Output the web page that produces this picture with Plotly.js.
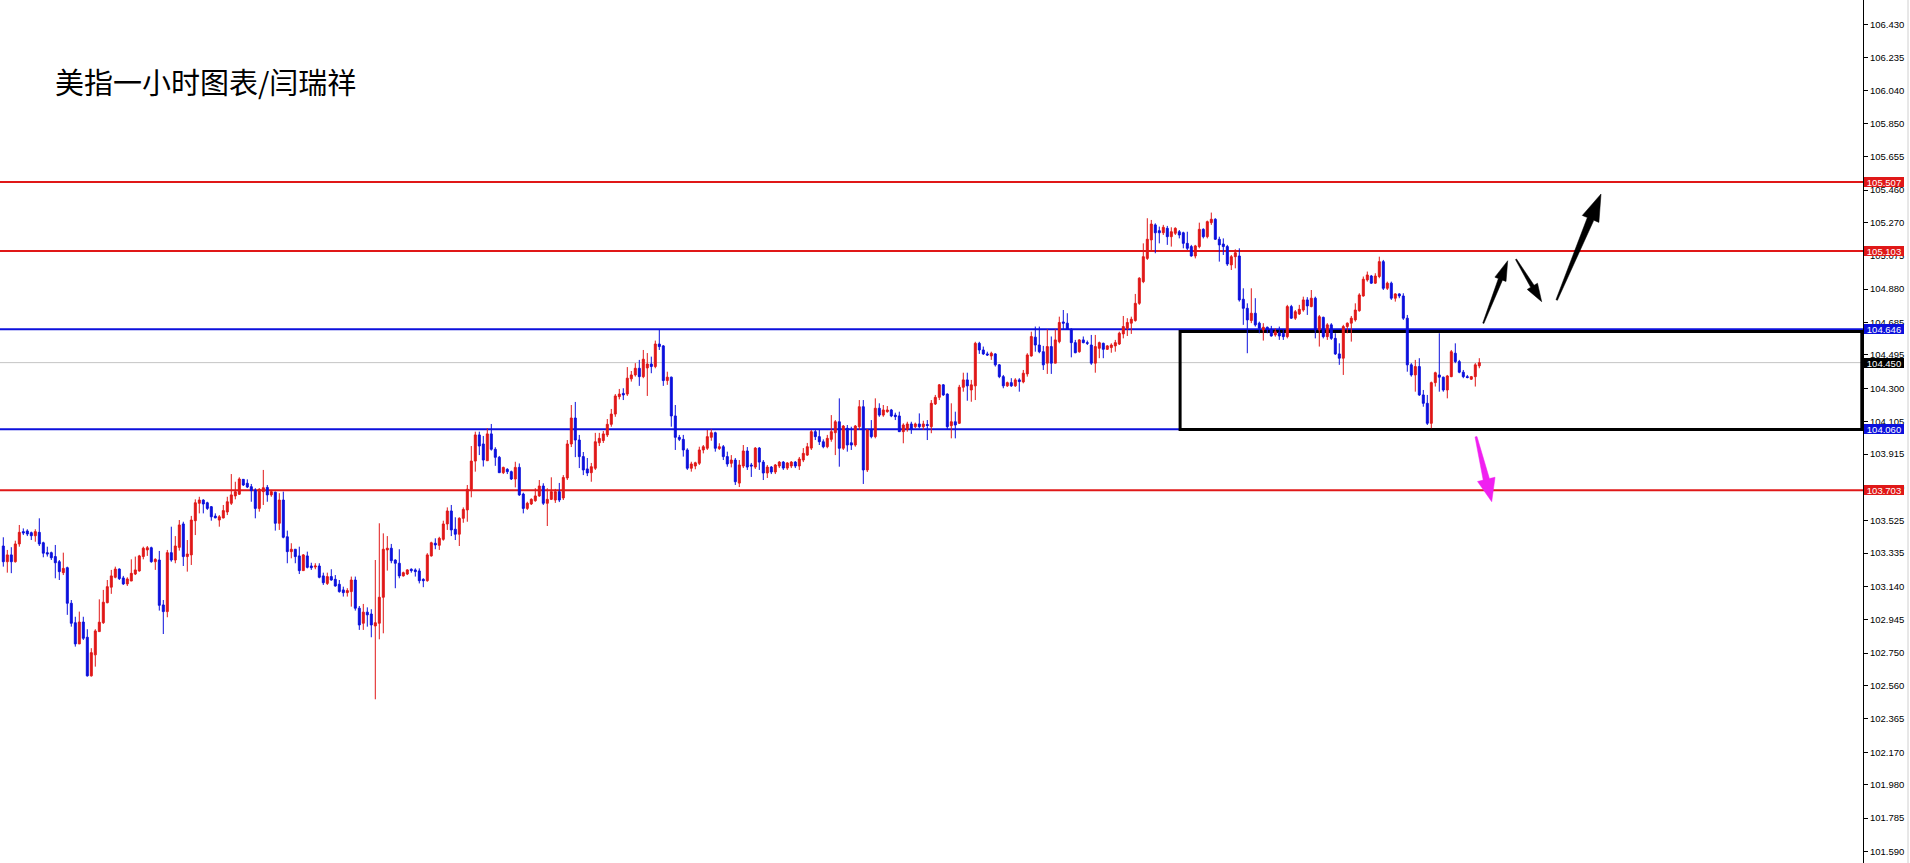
<!DOCTYPE html>
<html><head><meta charset="utf-8">
<script src="https://cdn.plot.ly/plotly-3.0.1.min.js"></script>
<style>html,body{margin:0;padding:0;background:#fff;overflow:hidden}#chart{width:1910px;height:863px}</style>
</head><body><div id="chart"></div>
<script>
// ---- hourly candles (oldest -> newest) ----
const OPEN = [
103.377,103.285,103.325,103.285,103.389,103.461,103.465,103.455,103.437,103.457,
103.396,103.338,103.338,103.315,103.285,103.221,103.250,103.042,102.928,102.804,
102.932,102.843,102.617,102.740,102.876,102.928,103.045,103.136,103.194,103.242,
103.190,103.155,103.172,103.213,103.231,103.315,103.354,103.367,103.285,103.295,
103.032,102.993,103.338,103.295,103.369,103.506,103.315,103.325,103.525,103.627,
103.646,103.630,103.607,103.552,103.529,103.541,103.576,103.627,103.670,103.680,
103.767,103.744,103.724,103.705,103.597,103.695,103.720,103.676,103.692,103.510,
103.646,103.431,103.344,103.358,103.319,103.233,103.319,103.260,103.254,103.260,
103.202,103.158,103.198,103.182,103.153,103.120,103.104,103.110,103.178,103.013,
102.925,102.990,102.979,102.909,102.925,103.077,103.354,103.364,103.295,103.276,
103.202,103.213,103.241,103.237,103.231,103.182,103.174,103.319,103.393,103.381,
103.416,103.506,103.582,103.475,103.446,103.539,103.588,103.709,103.874,104.027,
103.974,103.876,104.033,103.943,103.896,103.806,103.826,103.812,103.769,103.837,
103.681,103.597,103.623,103.642,103.670,103.728,103.627,103.650,103.646,103.695,
103.658,103.775,103.974,104.126,103.997,103.900,103.828,103.806,103.832,103.981,
103.994,104.027,104.089,104.149,104.251,104.270,104.266,104.355,104.378,104.417,
104.368,104.419,104.442,104.427,104.559,104.548,104.345,104.365,104.138,104.013,
104.001,103.939,103.832,103.845,103.861,103.939,103.949,104.013,104.040,103.947,
103.958,103.900,103.861,103.880,103.745,103.845,103.933,103.851,103.839,103.950,
103.868,103.804,103.839,103.810,103.845,103.868,103.833,103.845,103.868,103.845,
103.880,103.909,103.950,104.046,104.017,103.987,103.958,104.001,104.040,104.104,
103.949,104.066,103.981,103.968,104.075,104.192,103.822,104.056,104.017,104.183,
104.143,104.163,104.173,104.143,104.138,104.046,104.060,104.091,104.075,104.091,
104.075,104.088,104.075,104.208,104.247,104.320,104.266,104.081,104.104,104.095,
104.306,104.349,104.290,104.314,104.563,104.524,104.501,104.489,104.501,104.437,
104.368,104.314,104.333,104.314,104.349,104.337,104.384,104.489,104.599,104.553,
104.514,104.447,104.544,104.447,104.573,104.688,104.681,104.645,104.567,104.514,
104.583,104.567,104.553,104.447,104.534,104.563,104.528,104.538,104.548,104.559,
104.618,104.651,104.681,104.696,104.797,104.924,105.060,105.168,105.256,105.222,
105.210,105.236,105.187,105.207,105.216,105.210,105.148,105.129,105.074,105.129,
105.230,105.187,105.269,105.289,105.172,105.144,105.129,105.022,105.070,105.074,
104.821,104.768,104.696,104.739,104.681,104.641,104.657,104.645,104.612,104.625,
104.622,104.602,104.778,104.710,104.735,104.758,104.817,104.778,104.827,104.641,
104.715,104.602,104.671,104.592,104.501,104.476,104.661,104.681,104.700,104.754,
104.840,104.934,104.957,104.915,104.954,105.041,104.885,104.915,104.827,104.852,
104.840,104.710,104.437,104.378,104.427,104.261,104.212,104.095,104.333,104.378,
104.365,104.290,104.368,104.505,104.456,104.394,104.368,104.353,104.368,104.431];
const HIGH = [
103.428,103.354,103.370,103.408,103.500,103.480,103.475,103.461,103.475,103.539,
103.402,103.373,103.344,103.383,103.295,103.338,103.256,103.061,102.963,102.993,
102.963,102.890,102.779,102.890,103.065,103.120,103.178,103.237,103.256,103.246,
103.202,103.194,103.299,103.315,103.325,103.373,103.377,103.373,103.305,103.348,
103.061,103.354,103.490,103.435,103.529,103.519,103.412,103.553,103.650,103.665,
103.650,103.636,103.611,103.568,103.558,103.617,103.665,103.798,103.753,103.779,
103.769,103.767,103.740,103.715,103.715,103.822,103.734,103.705,103.695,103.686,
103.695,103.467,103.393,103.358,103.373,103.330,103.344,103.279,103.276,103.276,
103.221,103.221,103.241,103.207,103.178,103.139,103.130,103.198,103.198,103.026,
103.038,103.018,103.007,103.295,103.510,103.451,103.435,103.389,103.299,103.358,
103.227,103.241,103.246,103.246,103.246,103.188,103.335,103.402,103.422,103.431,
103.525,103.603,103.617,103.545,103.545,103.603,103.734,103.962,104.046,104.046,
104.021,104.066,104.091,103.955,103.904,103.841,103.832,103.818,103.870,103.860,
103.689,103.636,103.656,103.715,103.763,103.744,103.715,103.779,103.711,103.746,
103.792,103.997,104.202,104.220,104.027,103.927,103.892,103.863,104.039,104.039,
104.050,104.120,104.179,104.266,104.296,104.300,104.424,104.401,104.447,104.466,
104.524,104.506,104.485,104.579,104.645,104.553,104.397,104.368,104.202,104.027,
104.027,103.949,103.870,103.870,103.958,103.968,104.056,104.060,104.046,103.978,
103.968,103.929,103.909,103.892,103.880,103.968,103.956,103.863,103.956,103.956,
103.880,103.851,103.845,103.857,103.874,103.874,103.868,103.874,103.874,103.898,
103.950,103.980,104.056,104.060,104.056,104.001,104.027,104.143,104.114,104.241,
104.085,104.085,104.075,104.085,104.231,104.231,104.062,104.114,104.241,104.212,
104.202,104.196,104.179,104.157,104.163,104.095,104.104,104.104,104.099,104.153,
104.110,104.114,104.231,104.261,104.325,104.325,104.270,104.212,104.163,104.320,
104.391,104.391,104.349,104.572,104.572,104.544,104.514,104.514,104.505,104.442,
104.378,104.339,104.359,104.359,104.359,104.407,104.505,104.631,104.661,104.661,
104.548,104.645,104.603,104.645,104.719,104.758,104.739,104.651,104.583,104.587,
104.603,104.579,104.612,104.612,104.573,104.567,104.553,104.563,104.583,104.631,
104.723,104.710,104.719,104.852,104.950,105.148,105.295,105.285,105.265,105.246,
105.256,105.250,105.242,105.242,105.226,105.216,105.216,105.139,105.139,105.269,
105.236,105.281,105.328,105.295,105.187,105.177,105.139,105.080,105.113,105.119,
104.885,104.797,104.885,104.827,104.690,104.681,104.661,104.665,104.651,104.661,
104.645,104.788,104.788,104.758,104.788,104.836,104.833,104.875,104.836,104.729,
104.719,104.681,104.681,104.622,104.563,104.671,104.685,104.723,104.797,104.856,
104.954,104.983,104.963,104.973,105.070,105.051,104.924,104.924,104.856,104.856,
104.856,104.729,104.447,104.466,104.476,104.290,104.261,104.339,104.397,104.622,
104.368,104.378,104.524,104.563,104.466,104.407,104.378,104.372,104.447,104.476];
const LOW = [
103.256,103.221,103.218,103.280,103.373,103.441,103.435,103.412,103.402,103.377,
103.311,103.315,103.295,103.188,103.178,103.207,102.974,102.905,102.788,102.804,
102.827,102.613,102.613,102.671,102.876,102.921,103.042,103.097,103.188,103.178,
103.149,103.143,103.172,103.207,103.227,103.299,103.319,103.279,103.237,102.999,
102.862,102.960,103.285,103.276,103.350,103.260,103.227,103.266,103.441,103.568,
103.568,103.588,103.525,103.539,103.490,103.539,103.558,103.617,103.650,103.676,
103.728,103.716,103.636,103.539,103.578,103.617,103.636,103.665,103.467,103.471,
103.422,103.276,103.305,103.276,103.213,103.233,103.246,103.237,103.241,103.188,
103.149,103.149,103.174,103.139,103.104,103.081,103.081,103.022,102.999,102.886,
102.886,102.905,102.843,102.480,102.831,102.866,103.233,103.276,103.130,103.188,
103.198,103.207,103.221,103.198,103.158,103.136,103.168,103.315,103.358,103.354,
103.408,103.471,103.435,103.412,103.377,103.513,103.519,103.662,103.812,103.909,
103.842,103.876,103.935,103.846,103.806,103.798,103.798,103.763,103.720,103.670,
103.568,103.588,103.617,103.636,103.665,103.617,103.494,103.646,103.629,103.634,
103.646,103.763,103.956,103.897,103.833,103.792,103.786,103.753,103.822,103.962,
103.980,104.015,104.075,104.133,104.235,104.231,104.255,104.339,104.368,104.314,
104.359,104.255,104.388,104.417,104.524,104.314,104.320,104.075,103.939,103.991,
103.900,103.822,103.812,103.826,103.851,103.919,103.939,103.993,103.929,103.939,
103.880,103.841,103.837,103.734,103.722,103.833,103.822,103.781,103.828,103.822,
103.763,103.775,103.798,103.798,103.833,103.822,103.822,103.833,103.833,103.822,
103.868,103.904,103.939,103.997,103.968,103.949,103.949,103.987,103.909,103.841,
103.939,103.929,103.939,103.958,104.056,103.740,103.810,104.007,104.007,104.133,
104.133,104.157,104.131,104.114,104.045,103.978,104.046,104.033,104.066,104.066,
104.056,103.997,104.037,104.202,104.231,104.255,104.056,104.007,104.007,104.091,
104.280,104.227,104.221,104.231,104.501,104.495,104.489,104.466,104.427,104.359,
104.300,104.308,104.308,104.308,104.280,104.329,104.368,104.485,104.514,104.505,
104.407,104.384,104.384,104.447,104.563,104.645,104.641,104.481,104.505,104.508,
104.563,104.553,104.437,104.391,104.476,104.476,104.524,104.508,104.514,104.553,
104.592,104.606,104.618,104.690,104.788,104.915,105.051,105.099,105.090,105.148,
105.197,105.139,105.129,105.197,105.177,105.119,105.109,105.070,105.060,105.119,
105.177,105.177,105.256,105.168,105.041,105.080,105.016,104.992,105.002,104.807,
104.671,104.505,104.681,104.661,104.622,104.579,104.622,104.602,104.602,104.583,
104.583,104.592,104.706,104.700,104.729,104.748,104.729,104.774,104.592,104.544,
104.592,104.583,104.583,104.495,104.437,104.378,104.622,104.573,104.690,104.748,
104.836,104.924,104.911,104.911,104.944,104.875,104.875,104.817,104.807,104.827,
104.700,104.397,104.368,104.280,104.255,104.192,104.085,104.066,104.310,104.280,
104.280,104.241,104.365,104.447,104.388,104.359,104.358,104.349,104.310,104.417];
const CLOSE = [
103.285,103.325,103.285,103.389,103.457,103.453,103.447,103.437,103.461,103.389,
103.335,103.330,103.308,103.279,103.227,103.246,103.042,102.925,102.804,102.932,
102.837,102.617,102.753,102.880,102.931,103.048,103.139,103.202,103.242,103.186,
103.155,103.184,103.217,103.237,103.319,103.364,103.367,103.285,103.299,103.030,
102.993,103.338,103.295,103.377,103.500,103.315,103.330,103.529,103.630,103.646,
103.623,103.597,103.548,103.542,103.548,103.584,103.636,103.676,103.695,103.769,
103.734,103.722,103.701,103.597,103.709,103.718,103.676,103.695,103.510,103.646,
103.428,103.344,103.358,103.315,103.233,103.325,103.252,103.250,103.260,103.194,
103.162,103.198,103.178,103.143,103.110,103.104,103.116,103.178,103.013,102.915,
102.990,102.974,102.915,102.928,103.077,103.358,103.364,103.291,103.276,103.202,
103.221,103.237,103.233,103.227,103.174,103.174,103.325,103.396,103.383,103.422,
103.506,103.582,103.471,103.446,103.539,103.591,103.709,103.874,104.027,103.962,
103.880,104.033,103.943,103.896,103.806,103.837,103.812,103.769,103.837,103.676,
103.597,103.627,103.650,103.670,103.728,103.627,103.650,103.695,103.695,103.646,
103.778,103.974,104.126,103.997,103.900,103.822,103.804,103.841,103.987,104.007,
104.033,104.089,104.149,104.255,104.266,104.261,104.359,104.378,104.417,104.368,
104.470,104.442,104.427,104.559,104.544,104.345,104.365,104.138,104.013,104.001,
103.939,103.832,103.857,103.864,103.939,103.958,104.017,104.040,103.949,103.958,
103.900,103.857,103.880,103.753,103.851,103.933,103.839,103.845,103.950,103.868,
103.804,103.839,103.810,103.851,103.868,103.833,103.863,103.868,103.845,103.886,
103.919,103.958,104.046,104.017,103.987,103.958,104.007,104.046,104.104,103.949,
104.079,103.968,103.968,104.079,104.192,103.822,104.056,104.017,104.183,104.143,
104.173,104.173,104.138,104.134,104.046,104.085,104.091,104.060,104.091,104.075,
104.091,104.082,104.212,104.247,104.320,104.261,104.075,104.104,104.085,104.306,
104.349,104.314,104.320,104.563,104.524,104.501,104.495,104.505,104.437,104.368,
104.314,104.333,104.314,104.349,104.339,104.388,104.495,104.603,104.553,104.514,
104.437,104.544,104.447,104.583,104.685,104.681,104.645,104.567,104.508,104.583,
104.567,104.563,104.447,104.544,104.567,104.528,104.548,104.553,104.567,104.622,
104.661,104.685,104.704,104.797,104.944,105.070,105.172,105.261,105.210,105.210,
105.242,105.187,105.216,105.236,105.197,105.148,105.119,105.074,105.133,105.230,
105.187,105.275,105.289,105.172,105.139,105.129,105.027,105.070,105.093,104.817,
104.768,104.700,104.739,104.671,104.651,104.657,104.645,104.606,104.631,104.606,
104.602,104.778,104.710,104.748,104.762,104.817,104.782,104.827,104.641,104.719,
104.602,104.671,104.592,104.501,104.476,104.661,104.681,104.710,104.758,104.846,
104.938,104.963,104.915,104.957,105.041,104.885,104.915,104.827,104.852,104.840,
104.710,104.437,104.378,104.427,104.261,104.212,104.095,104.333,104.391,104.365,
104.290,104.372,104.514,104.456,104.394,104.368,104.363,104.368,104.437,104.450];

// ---- price axis ticks ----
const TICK_VALUES = [106.430,106.235,106.040,105.850,105.655,105.460,105.270,105.075,104.880,104.685,
  104.495,104.300,104.105,103.915,103.720,103.525,103.335,103.140,102.945,102.750,102.560,102.365,
  102.170,101.980,101.785,101.590];

// ---- drawn levels ----
const RED = '#e01818', BLUE = '#0c10dc';
const RESISTANCE = [105.507, 105.103];
const SUPPORT_BLUE = [104.646, 104.060];
const SUPPORT_RED = [103.703];
const CURRENT_PRICE = 104.450;
const RANGE_BOX = {fromBar: 294.2, top: 104.632, bottom: 104.058};
const TITLE = '美指一小时图表/闫瑞祥';

// ---- layout geometry ----
const W = 1910, H = 863, PLOT_W = 1863;
const X_RANGE = [-0.825, -0.825 + PLOT_W / 4];
const Y_RANGE = [101.522, 106.572];

const idx = OPEN.map((_, i) => i);

const candles = {
  type: 'candlestick', x: idx, open: OPEN, high: HIGH, low: LOW, close: CLOSE,
  increasing: {line: {color: RED, width: 1}, fillcolor: RED},
  decreasing: {line: {color: BLUE, width: 1}, fillcolor: BLUE},
  whiskerwidth: 0, hoverinfo: 'none', showlegend: false
};

const shapes = [];
shapes.push({type: 'line', xref: 'paper', yref: 'y', x0: 0, x1: 1, y0: CURRENT_PRICE, y1: CURRENT_PRICE,
  line: {color: '#c4c4c4', width: 1}, layer: 'below'});
RESISTANCE.concat(SUPPORT_RED).forEach(p => shapes.push({type: 'line', xref: 'paper', yref: 'y',
  x0: 0, x1: 1, y0: p, y1: p, line: {color: RED, width: 2}, layer: 'below'}));
SUPPORT_BLUE.forEach(p => shapes.push({type: 'line', xref: 'paper', yref: 'y',
  x0: 0, x1: 1, y0: p, y1: p, line: {color: BLUE, width: 2}, layer: 'below'}));
shapes.push({type: 'rect', xref: 'x', yref: 'y', x0: RANGE_BOX.fromBar, x1: X_RANGE[1] - 0.3,
  y0: RANGE_BOX.bottom, y1: RANGE_BOX.top, line: {color: '#000', width: 3}, fillcolor: 'rgba(0,0,0,0)', layer: 'below'});

// hand-drawn arrows (pixel positions on the canvas)
const ARROWS = [
  {tail: [1483.3, 323.3], tip: [1507.7, 260.7], head: 20, half: 6, shaft: 2.2, tailW: 0.6, color: '#000'},
  {tail: [1516.0, 259.3], tip: [1541.7, 301.7], head: 18, half: 6, shaft: 2.0, tailW: 0.6, color: '#000'},
  {tail: [1556.7, 300.0], tip: [1601.0, 194.0], head: 27, half: 9, shaft: 3.5, tailW: 0.8, color: '#000'},
  {tail: [1476.0, 436.7], tip: [1491.7, 501.7], head: 23, half: 9, shaft: 3.2, tailW: 1.0, color: '#f020f0'}
];
function px2paper(p) { return [p[0] / PLOT_W, 1 - p[1] / H]; }
ARROWS.forEach(a => {
  const dx = a.tip[0] - a.tail[0], dy = a.tip[1] - a.tail[1], len = Math.hypot(dx, dy);
  const ux = dx / len, uy = dy / len, nx = -uy, ny = ux;
  const bx = a.tip[0] - ux * a.head, by = a.tip[1] - uy * a.head;
  const pts = [
    [a.tail[0] - nx * a.tailW, a.tail[1] - ny * a.tailW],
    [bx - nx * a.shaft, by - ny * a.shaft],
    [bx - nx * a.half, by - ny * a.half],
    a.tip,
    [bx + nx * a.half, by + ny * a.half],
    [bx + nx * a.shaft, by + ny * a.shaft],
    [a.tail[0] + nx * a.tailW, a.tail[1] + ny * a.tailW]
  ].map(px2paper);
  const path = 'M' + pts.map(p => p[0].toFixed(5) + ',' + p[1].toFixed(5)).join('L') + 'Z';
  shapes.push({type: 'path', xref: 'paper', yref: 'paper', path: path,
    fillcolor: a.color, line: {color: a.color, width: 0.5}, layer: 'above'});
});
// window border on the far right
shapes.push({type: 'line', xref: 'paper', yref: 'paper', x0: 1908 / PLOT_W, x1: 1908 / PLOT_W, y0: 0, y1: 1,
  line: {color: '#d0d0d0', width: 1}});

const LABELS = [
  {p: 105.507, bg: RED}, {p: 105.103, bg: RED}, {p: 104.646, bg: BLUE},
  {p: CURRENT_PRICE, bg: '#000'}, {p: 104.060, bg: BLUE}, {p: 103.703, bg: RED}
];
const annotations = LABELS.map(l => ({
  xref: 'paper', yref: 'y', x: 1, y: l.p, xanchor: 'left', yanchor: 'middle', xshift: 1,
  text: l.p.toFixed(3), showarrow: false, bgcolor: l.bg, borderpad: 0, borderwidth: 0,
  width: 40, height: 10, align: 'center',
  font: {family: 'Liberation Sans, Arial, sans-serif', size: 9.5, color: '#fff'}
}));

const layout = {
  width: W, height: H, margin: {l: 0, r: W - PLOT_W, t: 0, b: 0},
  paper_bgcolor: '#fff', plot_bgcolor: '#fff', showlegend: false, dragmode: false,
  title: {text: TITLE, x: 55 / W, xanchor: 'left', xref: 'container', y: 1 - 84 / H, yanchor: 'middle', yref: 'container',
    font: {family: 'Noto Sans CJK SC, sans-serif', size: 29, color: '#000'}},
  xaxis: {range: X_RANGE, visible: false, rangeslider: {visible: false}, fixedrange: true},
  yaxis: {range: Y_RANGE, side: 'right', showgrid: false, zeroline: false, showline: true,
    linecolor: '#000', linewidth: 1, ticks: 'outside', ticklen: 4, tickcolor: '#000', tickwidth: 1,
    tickvals: TICK_VALUES, ticktext: TICK_VALUES.map(v => v.toFixed(3)), fixedrange: true,
    tickfont: {family: 'Liberation Sans, Arial, sans-serif', size: 9.5, color: '#000'}},
  boxgap: 0.3,
  shapes: shapes, annotations: annotations
};

Plotly.newPlot('chart', [candles], layout, {displayModeBar: false, staticPlot: true});
</script></body></html>
